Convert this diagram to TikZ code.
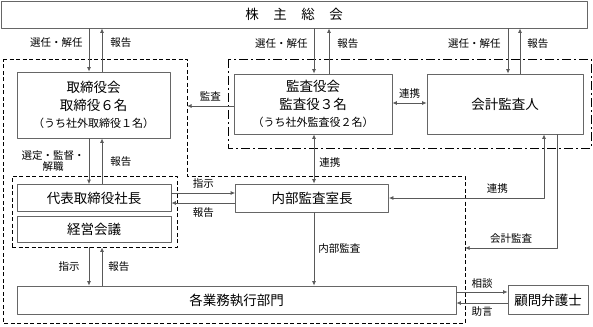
\documentclass[tikz,border=0pt]{standalone}
\usepackage{fontspec}
\setmainfont{Noto Sans CJK JP}
\usepackage{tikz}
\usetikzlibrary{arrows.meta}
\tikzset{
  every picture/.style={line join=round, >={Latex[length=4.5pt,width=4pt]}},
  box/.style={draw=black!60, line width=0.8pt, inner sep=0pt, align=center, font=\fontsize{13.5}{17.5}\selectfont},
  lbl/.style={inner sep=1pt, align=center, font=\fontsize{10.5}{11.5}\selectfont},
  grp/.style={draw, line width=0.9pt, dash pattern=on 4pt off 2.5pt},
  grpdot/.style={draw, line width=0.9pt, dash pattern=on 9pt off 3pt on 2pt off 3pt},
  conn/.style={draw=black!65, line width=0.8pt},
}
\newcommand{\smalltxt}[1]{{\fontsize{11}{13}\selectfont #1}}

\begin{document}
\begin{tikzpicture}[x=1pt,y=-1pt]
\useasboundingbox (0,0) rectangle (593,326);
% dashed groups
\draw[grp] (3,59) -- (187,59) -- (187,176) -- (465,176) -- (465,323) -- (3,323) -- cycle;
\draw[grpdot] (228,59) rectangle (591,148);
\node[grp, minimum width=165pt, minimum height=71pt, inner sep=0pt] (mgmt) at (94.5,211.5) {};
% boxes
\node[box, minimum width=586pt, minimum height=27pt] (sh) at (294,14.5) {株\hspace{14.5pt}主\hspace{14.5pt}総\hspace{14.5pt}会};
\node[box, minimum width=153pt, minimum height=66pt] (board) at (93.5,105) {取締役会\\取締役６名\\\smalltxt{（うち社外取締役１名）}};
\node[box, minimum width=158pt, minimum height=60pt] (kansa) at (313,104) {監査役会\\監査役３名\\\smalltxt{（うち社外監査役２名）}};
\node[box, minimum width=156pt, minimum height=60pt] (kaikei) at (505,104) {会計監査人};
\node[box, minimum width=154pt, minimum height=27pt] (ceo) at (94,198) {代表取締役社長};
\node[box, minimum width=154pt, minimum height=26pt] (mtg) at (94,229) {経営会議};
\node[box, minimum width=153pt, minimum height=28pt] (audit) at (312,198) {内部監査室長};
\node[box, minimum width=439pt, minimum height=28pt] (dept) at (236.5,300) {各業務執行部門};
\node[box, minimum width=80pt, minimum height=29pt] (lawyer) at (548,300) {顧問弁護士};
\coordinate (bdedge) at (187,106);
\coordinate (outer) at (465,248);
% shareholders -> boards
\draw[conn,->] ([xshift=-4.5pt]board.north |- sh.south) -- ([xshift=-4.5pt]board.north) node[lbl,pos=0.33,left=5pt] (selA) {選任・解任};
\draw[conn,<-] ([xshift=8.5pt]board.north |- sh.south) -- ([xshift=8.5pt]board.north) node[lbl,pos=0.33,right=7pt] (repA) {報告};
\draw[conn,->] ([xshift=1pt]kansa.north |- sh.south) -- ([xshift=1pt]kansa.north) node[lbl,pos=0.33,left=5pt] (selB) {選任・解任};
\draw[conn,<-] ([xshift=16pt]kansa.north |- sh.south) -- ([xshift=16pt]kansa.north) node[lbl,pos=0.33,right=7pt] (repB) {報告};
\draw[conn,->] ([xshift=3pt]kaikei.north |- sh.south) -- ([xshift=3pt]kaikei.north) node[lbl,pos=0.33,left=6pt] (selC) {選任・解任};
\draw[conn,<-] ([xshift=15pt]kaikei.north |- sh.south) -- ([xshift=15pt]kaikei.north) node[lbl,pos=0.33,right=6pt] (repC) {報告};
% audit board
\draw[conn,->] ([yshift=-2pt]kansa.west) -- (bdedge) node[lbl,midway,above=3pt] (audA) {監査};
\draw[conn,<->] ([yshift=1pt]kansa.east) -- ([yshift=1pt]kaikei.west) node[lbl,midway,above=3pt] (coopA) {連携};
\draw[conn,<->] ([xshift=1pt]kansa.south) -- ([xshift=1pt]kansa.south |- audit.north) node[lbl,pos=0.58,right=4pt] (coopB) {連携};
% board -> president
\draw[conn,->] ([xshift=-5pt]ceo.north |- board.south) -- ([xshift=-5pt]ceo.north) node[lbl,midway,left=3pt] (supA) {選定・監督・\\解職};
\draw[conn,<-] ([xshift=8pt]ceo.north |- board.south) -- ([xshift=8pt]ceo.north) node[lbl,midway,right=7pt] (repD) {報告};
% president <-> internal audit
\draw[conn,->] ([yshift=5pt]ceo.east) -- ([yshift=5pt]audit.west) node[lbl,midway,above=3pt] (instA) {指示};
\draw[conn,<-] ([yshift=-5pt]ceo.east) -- ([yshift=-5pt]audit.west) node[lbl,midway,below=3pt] (repE) {報告};
% accounting auditor
\draw[conn,<->] ([xshift=39pt]kaikei.south) |- (audit.east) node[lbl,pos=0.65,above=3pt] (coopC) {連携};
\draw[conn,->] ([xshift=52pt]kaikei.south) |- (outer) node[lbl,pos=0.75,above=3pt] (accA) {会計監査};
% internal audit -> departments
\draw[conn,->] ([xshift=2pt]audit.south) -- ([xshift=2pt]audit.south |- dept.north) node[lbl,midway,right=3pt] (intA) {内部監査};
% management -> departments
\draw[conn,->] ([xshift=-5.5pt]mgmt.south) -- ([xshift=-5.5pt]mgmt.south |- dept.north) node[lbl,midway,left=8pt] (instB) {指示};
\draw[conn,<-] ([xshift=7.5pt]mgmt.south) -- ([xshift=7.5pt]mgmt.south |- dept.north) node[lbl,midway,right=5pt] (repF) {報告};
% lawyer
\draw[conn,->] ([yshift=8pt]dept.east) -- ([yshift=8pt]lawyer.west) node[lbl,midway,above=2pt] (consA) {相談};
\draw[conn,<-] ([yshift=-3pt]dept.east) -- ([yshift=-3pt]lawyer.west) node[lbl,midway,below=2pt] (advA) {助言};
\end{tikzpicture}
\end{document}
